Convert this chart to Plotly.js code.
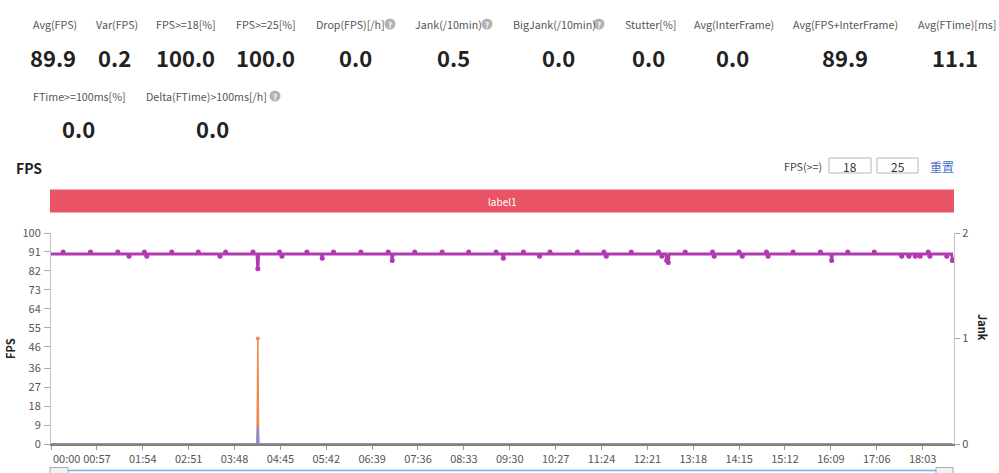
<!DOCTYPE html>
<html>
<head>
<meta charset="utf-8">
<script src="https://cdn.plot.ly/plotly-3.0.1.min.js"></script>
<style>
  html, body { margin: 0; padding: 0; background: #ffffff; }
  #chart { width: 999px; height: 473px; }
</style>
</head>
<body>
<div id="chart"></div>
<script>
// ---------------- DATA ----------------
const statLabels1 = ['Avg(FPS)', 'Var(FPS)', 'FPS>=18[%]', 'FPS>=25[%]', 'Drop(FPS)[/h]', 'Jank(/10min)',
  'BigJank(/10min)', 'Stutter[%]', 'Avg(InterFrame)', 'Avg(FPS+InterFrame)', 'Avg(FTime)[ms]'];
const statValues1 = ['89.9', '0.2', '100.0', '100.0', '0.0', '0.5', '0.0', '0.0', '0.0', '89.9', '11.1'];
const statLabels2 = ['FTime>=100ms[%]', 'Delta(FTime)>100ms[/h]'];
const statValues2 = ['0.0', '0.0'];

const fpsThresholds = ['18', '25'];
const bandLabel = 'label1';

const tickLabels = ['00:00', '00:57', '01:54', '02:51', '03:48', '04:45', '05:42', '06:39', '07:36', '08:33',
  '09:30', '10:27', '11:24', '12:21', '13:18', '14:15', '15:12', '16:09', '17:06', '18:03'];
const fpsTickLabels = [0, 9, 18, 27, 36, 46, 55, 64, 73, 82, 91, 100];
const jankTickLabels = [0, 1, 2];

// FPS samples (seconds from start) and FPS values, grouped line by line
const fpsTime = [
  0,
  14, 15, 16, 48, 49, 50, 82, 83, 84, 96, 97, 98,
  115, 116, 117, 119, 120, 149, 150, 151, 182, 183, 184,
  209, 210, 211, 216, 217, 218, 250, 251, 252, 256, 257, 258,
  283, 284, 285, 287, 288, 317, 318, 319, 336, 337, 338,
  350, 351, 352, 384, 385, 386, 418, 419, 420, 423, 424, 425,
  451, 452, 453, 485, 486, 487, 518, 519, 520, 552, 553, 554,
  561, 562, 563, 586, 587, 588, 606, 607, 608, 619, 620, 621,
  653, 654, 655, 686, 687, 688, 690, 691, 720, 721, 722,
  754, 755, 756, 758, 759, 760, 764, 765, 767, 768,
  787, 788, 789, 821, 822, 823, 824, 825, 854, 855, 856,
  858, 859, 860, 888, 889, 890, 891, 892, 921, 922, 923,
  955, 956, 957, 969, 970, 971, 989, 990, 991, 1022, 1023, 1024,
  1056, 1057, 1058, 1065, 1066, 1067, 1073, 1074, 1075, 1079, 1080, 1081,
  1089, 1090, 1091, 1092, 1093, 1112, 1113, 1114, 1119, 1120];
const fpsValue = [
  90,
  90, 91, 90, 90, 91, 90, 90, 91, 90, 90, 89, 90,
  90, 91, 90, 89, 90, 90, 91, 90, 90, 91, 90,
  90, 89, 90, 90, 91, 90, 90, 91, 90, 90, 83, 90,
  90, 91, 90, 89, 90, 90, 91, 90, 90, 88, 90,
  90, 91, 90, 90, 91, 90, 90, 91, 90, 90, 87, 90,
  90, 91, 90, 90, 91, 90, 90, 91, 90, 90, 91, 90,
  90, 88, 90, 90, 91, 90, 90, 89, 90, 90, 91, 90,
  90, 91, 90, 90, 91, 90, 89, 90, 90, 91, 90,
  90, 91, 90, 90, 89, 90, 90, 87, 86, 90,
  90, 91, 90, 90, 91, 90, 89, 90, 90, 91, 90,
  90, 89, 90, 90, 91, 90, 89, 90, 90, 91, 90,
  90, 91, 90, 90, 87, 90, 90, 91, 90, 90, 91, 90,
  90, 89, 90, 90, 89, 90, 90, 89, 90, 90, 89, 90,
  90, 91, 90, 89, 90, 90, 89, 90, 90, 87];

// Jank (right axis)
const jankTime = [0, 256, 257, 258, 1120];
const jankValue = [0, 0, 1, 0, 0];
// small blue series at the same moment (read on the right axis)
const stutterTime = [0, 256, 257, 258, 1120];
const stutterValue = [0, 0, 0.17, 0, 0];

// ---------------- LAYOUT HELPERS ----------------
const L = 51, R = 954, T = 233, B = 444;
const px = x => (x - L) / (R - L);
const py = y => (B - y) / (B - T);
const FONT = '"Noto Sans CJK SC", "Noto Sans", sans-serif';

const tickSec = tickLabels.map(s => parseInt(s.slice(0, 2), 10) * 60 + parseInt(s.slice(3), 10));
const tickText = tickLabels.map((s, i) => i === 0 ? '' : s);

// symbol points: samples that differ from the typical (median) level
const sorted = fpsValue.slice().sort((a, b) => a - b);
const typical = sorted[Math.floor(sorted.length / 2)];
const symX = [], symY = [];
fpsTime.forEach((t, i) => { if (fpsValue[i] !== typical) { symX.push(t); symY.push(fpsValue[i]); } });
const jX = [], jY = [];
jankTime.forEach((t, i) => { if (jankValue[i] > 0) { jX.push(t); jY.push(jankValue[i]); } });

const PURPLE = '#b13ab3';
const traces = [
  { x: fpsTime, y: fpsValue, type: 'scatter', mode: 'lines', name: 'FPS', yaxis: 'y',
    line: { color: PURPLE, width: 3 }, hoverinfo: 'skip' },
  { x: symX, y: symY, type: 'scatter', mode: 'markers', name: 'FPS', yaxis: 'y',
    marker: { color: PURPLE, size: 5 }, hoverinfo: 'skip' },
  { x: jankTime, y: jankValue, type: 'scatter', mode: 'lines', name: 'Jank', yaxis: 'y2',
    line: { color: '#ef8a4e', width: 1.5 }, hoverinfo: 'skip' },
  { x: jX, y: jY, type: 'scatter', mode: 'markers', name: 'Jank', yaxis: 'y2',
    marker: { color: '#ef8a4e', size: 4 }, hoverinfo: 'skip', cliponaxis: false },
  { x: stutterTime, y: stutterValue, type: 'scatter', mode: 'lines', name: 'Stutter', yaxis: 'y2',
    line: { color: '#7f8fcf', width: 1.8 }, hoverinfo: 'skip' }
];

const ann = [];
const shapes = [];
function text(x, y, t, opts) {
  ann.push(Object.assign({ xref: 'paper', yref: 'paper', x: px(x), y: py(y), text: t, showarrow: false,
    xanchor: 'left', yanchor: 'middle', font: { family: FONT, size: 10.7, color: '#555' } }, opts || {}));
}
function help(cx, cy) {
  shapes.push({ type: 'circle', xref: 'paper', yref: 'paper', x0: px(cx - 5.5), x1: px(cx + 5.5),
    y0: py(cy + 5.5), y1: py(cy - 5.5), fillcolor: '#b3b3b3', line: { width: 0 } });
  text(cx, cy, '<b>?</b>', { xanchor: 'center', font: { family: FONT, size: 8, color: '#fff' } });
}

// stats row 1
const labelX1 = [31, 94, 154, 234, 314, 413, 511, 623, 692, 791, 916];
const valueX1 = [53, 114, 185, 265, 355, 453, 558, 648, 732, 845, 955];
statLabels1.forEach((s, i) => text(labelX1[i], 24, s));
statValues1.forEach((s, i) => text(valueX1[i], 57, '<b>' + s + '</b>',
  { xanchor: 'center', font: { family: FONT, size: 22, color: '#222' } }));
help(390, 24); help(487, 24); help(599, 24);
// stats row 2
const labelX2 = [31, 144];
const valueX2 = [78, 212];
statLabels2.forEach((s, i) => text(labelX2[i], 96, s));
statValues2.forEach((s, i) => text(valueX2[i], 128, '<b>' + s + '</b>',
  { xanchor: 'center', font: { family: FONT, size: 22, color: '#222' } }));
help(275, 96);

// chart header
text(14, 168, '<b>FPS</b>', { font: { family: FONT, size: 14, color: '#222' } });
text(782, 166, 'FPS(>=)', { font: { family: FONT, size: 10.7, color: '#444' } });
[[829, 871], [877, 918]].forEach((b, i) => {
  shapes.push({ type: 'rect', xref: 'paper', yref: 'paper', x0: px(b[0]), x1: px(b[1]), y0: py(173), y1: py(158),
    fillcolor: '#fff', line: { color: '#b5b5b5', width: 1 } });
  text((b[0] + b[1]) / 2, 166, fpsThresholds[i], { xanchor: 'center', font: { family: FONT, size: 12, color: '#333' } });
});
text(942, 166, '重置', { xanchor: 'center', font: { family: FONT, size: 12, color: '#4a72c4' } });

// label band
shapes.push({ type: 'rect', xref: 'paper', yref: 'paper', x0: px(50), x1: px(954), y0: py(212.5), y1: py(189.5),
  fillcolor: '#ea5566', line: { width: 0 } });
text(502, 201, bandLabel, { xanchor: 'center', font: { family: FONT, size: 10, color: '#fff' } });

// axis titles
text(10, 349, '<b>FPS</b>', { xanchor: 'center', textangle: -90, font: { family: FONT, size: 11, color: '#222' } });
text(983, 327, '<b>Jank</b>', { xanchor: 'center', textangle: 90, font: { family: FONT, size: 11, color: '#222' } });
// first x tick label (left aligned at its tick)
text(51, 458, tickLabels[0], { font: { family: FONT, size: 11, color: '#555' } });

// data-zoom slider strip at the bottom
shapes.push({ type: 'line', xref: 'paper', yref: 'paper', x0: px(68), x1: px(936), y0: py(470.5), y1: py(470.5),
  line: { color: '#6fb3e6', width: 1.5 } });
[[50, 68], [936, 953]].forEach(h => shapes.push({ type: 'rect', xref: 'paper', yref: 'paper',
  x0: px(h[0]), x1: px(h[1]), y0: py(476), y1: py(467.5), fillcolor: '#f2f2f2', line: { color: '#a8a8a8', width: 1 } }));

const layout = {
  width: 999, height: 473,
  margin: { l: L, r: 999 - R, t: T, b: 473 - B, pad: 0 },
  paper_bgcolor: '#ffffff', plot_bgcolor: '#ffffff',
  showlegend: false,
  font: { family: FONT, size: 11, color: '#555' },
  xaxis: {
    range: [0, 1122], tickvals: tickSec, ticktext: tickText, ticks: 'outside', ticklen: 4, tickcolor: '#999',
    showgrid: false, zeroline: false, showline: true, linecolor: '#8d8072', linewidth: 2,
    tickfont: { family: FONT, size: 11, color: '#555' }, fixedrange: true
  },
  yaxis: {
    range: [0, 100], tickvals: fpsTickLabels, ticktext: fpsTickLabels.map(String), ticks: 'outside', ticklen: 6,
    ticklabelstandoff: 1,
    tickcolor: '#aaa', showgrid: false, zeroline: false, showline: true, linecolor: '#c4c4c4', linewidth: 1,
    tickfont: { family: FONT, size: 11, color: '#555' }, fixedrange: true
  },
  yaxis2: {
    range: [0, 2], overlaying: 'y', side: 'right', tickvals: jankTickLabels, ticktext: jankTickLabels.map(String),
    ticks: 'outside', ticklen: 5, tickcolor: '#aaa', showgrid: false, zeroline: false, showline: true,
    linecolor: '#c4c4c4', linewidth: 1, tickfont: { family: FONT, size: 11, color: '#555' }, fixedrange: true
  },
  annotations: ann,
  shapes: shapes
};

Plotly.newPlot('chart', traces, layout, { displayModeBar: false, staticPlot: true });
</script>
</body>
</html>
